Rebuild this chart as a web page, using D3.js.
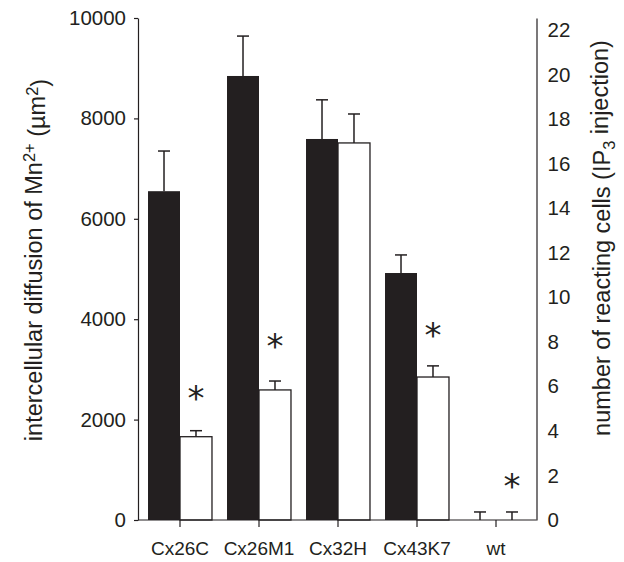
<!DOCTYPE html>
<html>
<head>
<meta charset="utf-8">
<script src="https://cdn.jsdelivr.net/npm/d3@7"></script>
<style>
  html, body { margin: 0; padding: 0; background: #fff; }
  svg { display: block; font-family: "Liberation Sans", Arial, sans-serif; }
</style>
</head>
<body>
<script>
const categories = ["Cx26C", "Cx26M1", "Cx32H", "Cx43K7", "wt"];
// black bars, left axis (um^2)
const mnDiffusion = [6550, 8845, 7590, 4920, 0];
const mnDiffusionErr = [800, 795, 780, 360, 160];
// white bars, right axis (cells)
const reactingCells = [3.74, 5.84, 16.93, 6.42, 0];
const reactingCellsErr = [0.27, 0.4, 1.3, 0.5, 0.36];
// asterisks above the white bars (right axis units), null = none
const asteriskLevel = [5.85, 8.2, null, 8.7, 1.9];

const leftTicks = [0, 2000, 4000, 6000, 8000, 10000];
const rightTicks = [0, 2, 4, 6, 8, 10, 12, 14, 16, 18, 20, 22];

const width = 624;
const height = 562;

const svg = d3.select("body").append("svg")
  .attr("width", width)
  .attr("height", height);

const plot = { top: 18, bottom: 520, left: 138, right: 536.5 };

const x = d3.scaleBand()
  .domain(categories)
  .range([140.5, 535.5])
  .padding(0);

const sub = d3.scaleBand()
  .domain(["mn", "cells"])
  .range([0, x.bandwidth()])
  .paddingInner(0)
  .paddingOuter(0.235);

const yLeft = d3.scaleLinear().domain([0, 10000]).range([plot.bottom, plot.top]);
const yRight = d3.scaleLinear().domain([0, 22.54]).range([plot.bottom, plot.top]);

const rows = categories.map((c, i) => ({
  cat: c,
  mn: mnDiffusion[i], mnErr: mnDiffusionErr[i],
  cells: reactingCells[i], cellsErr: reactingCellsErr[i],
  star: asteriskLevel[i]
}));

const ink = "#231f20";
const capW = 12;

// black bars
svg.append("g").selectAll("rect")
  .data(rows)
  .join("rect")
  .attr("x", d => x(d.cat) + sub("mn"))
  .attr("y", d => yLeft(d.mn))
  .attr("width", sub.bandwidth())
  .attr("height", d => yLeft(0) - yLeft(d.mn))
  .attr("fill", ink);

// white bars
svg.append("g").selectAll("rect")
  .data(rows)
  .join("rect")
  .attr("x", d => x(d.cat) + sub("cells"))
  .attr("y", d => yRight(d.cells))
  .attr("width", sub.bandwidth())
  .attr("height", d => yRight(0) - yRight(d.cells))
  .attr("fill", "#fff")
  .attr("stroke", ink)
  .attr("stroke-width", 1.3);

// error bars (upper only)
function errorBars(key, errKey, y) {
  const g = svg.append("g").attr("stroke", ink).attr("stroke-width", 1.5);
  const cx = d => x(d.cat) + sub(key) + sub.bandwidth() / 2;
  g.selectAll("line.stem")
    .data(rows)
    .join("line")
    .attr("class", "stem")
    .attr("x1", cx).attr("x2", cx)
    .attr("y1", d => y(d[key]))
    .attr("y2", d => y(d[key] + d[errKey]));
  g.selectAll("line.cap")
    .data(rows)
    .join("line")
    .attr("class", "cap")
    .attr("x1", d => cx(d) - capW / 2)
    .attr("x2", d => cx(d) + capW / 2)
    .attr("y1", d => y(d[key] + d[errKey]))
    .attr("y2", d => y(d[key] + d[errKey]));
}
errorBars("mn", "mnErr", yLeft);
errorBars("cells", "cellsErr", yRight);

// asterisks
svg.append("g").selectAll("text")
  .data(rows.filter(d => d.star != null))
  .join("text")
  .attr("x", d => x(d.cat) + sub("cells") + sub.bandwidth() / 2)
  .attr("y", d => yRight(d.star))
  .attr("dy", "0.6em")
  .attr("text-anchor", "middle")
  .attr("font-family", "DejaVu Sans, sans-serif")
  .attr("font-size", 34)
  .attr("fill", ink)
  .text("*");

// axes
const leftAxis = svg.append("g")
  .attr("transform", `translate(${plot.left},0)`)
  .call(d3.axisLeft(yLeft).tickValues(leftTicks).tickFormat(d3.format("d"))
    .tickSize(4).tickPadding(8).tickSizeOuter(0));

const rightAxis = svg.append("g")
  .attr("transform", `translate(${plot.right},0)`)
  .call(d3.axisRight(yRight).tickValues(rightTicks).tickFormat(d3.format("d"))
    .tickSize(0).tickPadding(11).tickSizeOuter(0));

const bottomAxis = svg.append("g")
  .attr("transform", `translate(0,${plot.bottom})`)
  .call(d3.axisBottom(x).tickSize(7).tickPadding(15).tickSizeOuter(0));

bottomAxis.select(".domain").attr("d", `M${plot.left},0H${plot.right}`);

[leftAxis, rightAxis, bottomAxis].forEach(a => {
  a.select(".domain").attr("stroke", ink).attr("stroke-width", 1.2);
  a.selectAll(".tick line").attr("stroke", ink).attr("stroke-width", 1.2);
  a.selectAll("text").attr("fill", ink).attr("font-family", "Liberation Sans, Arial, sans-serif");
});
leftAxis.selectAll("text").attr("font-size", 20.5);
rightAxis.selectAll("text").attr("font-size", 20.5);
bottomAxis.selectAll("text").attr("font-size", 19);

// axis titles
const leftTitle = svg.append("text")
  .attr("transform", "translate(42,260) rotate(-90)")
  .attr("text-anchor", "middle")
  .attr("font-size", 23.5)
  .attr("fill", ink);
leftTitle.append("tspan").text("intercellular diffusion of Mn");
leftTitle.append("tspan").attr("dy", "-0.45em").attr("font-size", "0.7em").text("2+");
leftTitle.append("tspan").attr("dy", "0.45em").text(" (\u00b5m");
leftTitle.append("tspan").attr("dy", "-0.45em").attr("font-size", "0.7em").text("2");
leftTitle.append("tspan").attr("dy", "0.45em").text(")");

const rightTitle = svg.append("text")
  .attr("transform", "translate(610,238) rotate(-90)")
  .attr("text-anchor", "middle")
  .attr("font-size", 23.5)
  .attr("fill", ink);
rightTitle.append("tspan").text("number of reacting cells (IP");
rightTitle.append("tspan").attr("dy", "0.3em").attr("font-size", "0.7em").text("3");
rightTitle.append("tspan").attr("dy", "-0.3em").text(" injection)");
</script>
</body>
</html>
